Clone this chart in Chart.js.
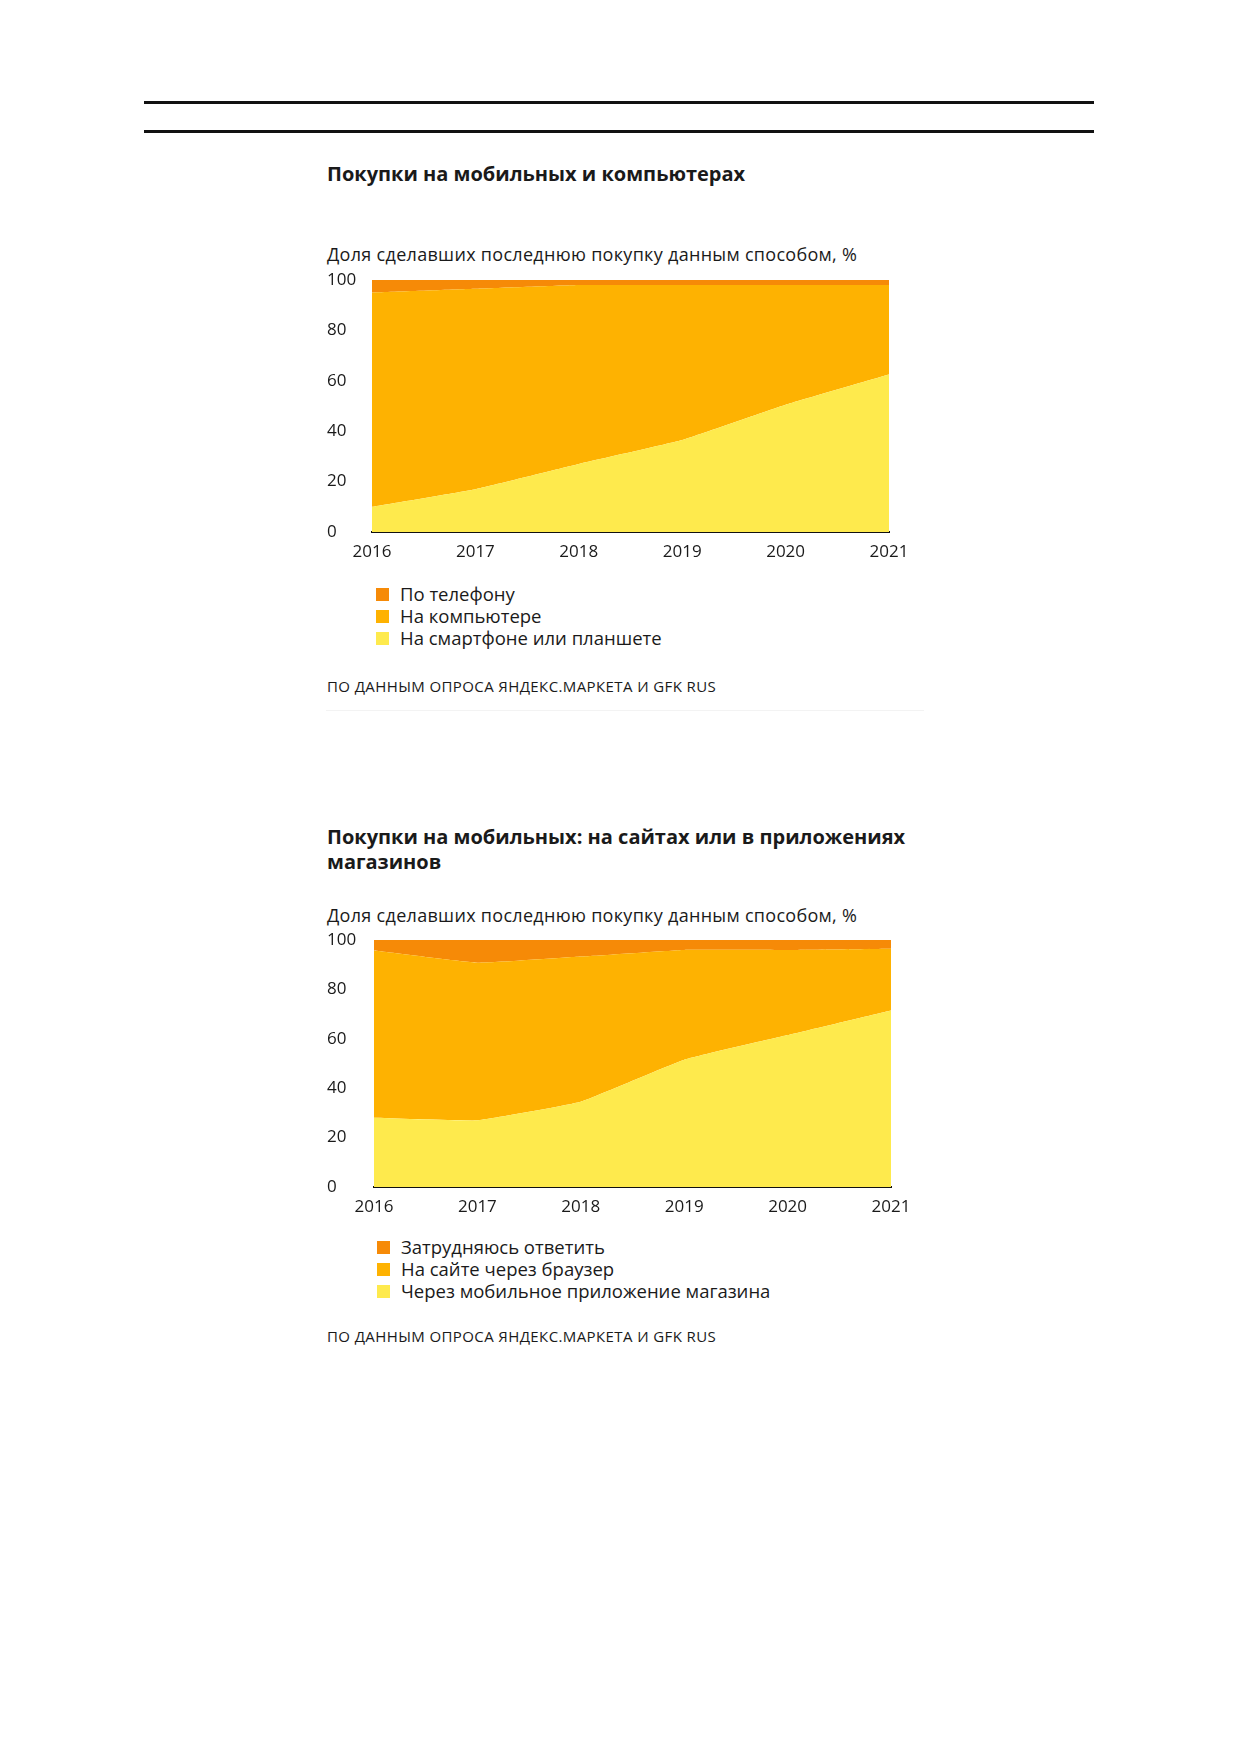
<!DOCTYPE html>
<html lang="ru">
<head>
<meta charset="utf-8">
<script src="https://cdn.jsdelivr.net/npm/chart.js@4.4.1/dist/chart.umd.min.js"></script>
<style>
  html, body { margin: 0; padding: 0; background: #fff; }
  body { width: 1237px; height: 1754px; position: relative; font-family: "Open Sans", sans-serif; color: #1a1a1a; }
  .rule { position: absolute; left: 144px; width: 950px; height: 3px; background: #111; }
  .title { position: absolute; left: 327px; font-size: 20px; font-weight: 700; line-height: 25px; white-space: nowrap; }
  .subtitle { position: absolute; left: 327px; font-size: 18px; letter-spacing: 0.3px; line-height: 24px; white-space: nowrap; }
  .legend { position: absolute; font-size: 18.5px; line-height: 22px; }
  .legend .item { display: flex; align-items: center; white-space: nowrap; }
  .legend .box { width: 13px; height: 13px; margin-right: 11px; }
  .source { position: absolute; left: 327px; font-size: 15px; letter-spacing: 0.4px; line-height: 20px; white-space: nowrap; }
  .wrap { position: absolute; }
</style>
</head>
<body>

<div class="rule" style="top:101px"></div>
<div class="rule" style="top:130px"></div>

<!-- chart 1 -->
<div class="title" style="top:161px">Покупки на мобильных и компьютерах</div>
<div class="subtitle" style="top:242px">Доля сделавших последнюю покупку данным способом, %</div>
<div class="wrap" style="left:327px; top:262px; width:592px; height:304px;"><canvas id="chart1"></canvas></div>
<div class="legend" id="legend1" style="left:376px; top:583px"></div>
<div class="source" style="top:676px">ПО ДАННЫМ ОПРОСА ЯНДЕКС.МАРКЕТА И GFK RUS</div>
<div style="position:absolute; left:326px; top:710px; width:598px; height:1px; background:#f3f3f3"></div>

<!-- chart 2 -->
<div class="title" style="top:824px">Покупки на мобильных: на сайтах или в приложениях<br>магазинов</div>
<div class="subtitle" style="top:903px">Доля сделавших последнюю покупку данным способом, %</div>
<div class="wrap" style="left:327px; top:922px; width:594px; height:299px;"><canvas id="chart2"></canvas></div>
<div class="legend" id="legend2" style="left:377px; top:1236px"></div>
<div class="source" style="top:1326px">ПО ДАННЫМ ОПРОСА ЯНДЕКС.МАРКЕТА И GFK RUS</div>

<script>
// Data (percent of respondents)
const years = ["2016", "2017", "2018", "2019", "2020", "2021"];
const yTicks = [0, 20, 40, 60, 80, 100];

// Chart 1: device of last purchase
const smartphoneShare = [10, 17, 27, 36.5, 50.5, 62.5];
const computerShare = [85, 79.5, 71, 61.5, 47.5, 35.5];
const phoneShare = [5, 3.5, 2, 2, 2, 2];

// Chart 2: mobile purchases, site or app
const appShare = [28, 27, 34.5, 51.5, 61.5, 71.5];
const browserShare = [67.7, 63.8, 58.8, 44.5, 34.5, 25];
const hardShare = [4.3, 9.2, 6.7, 4, 4, 3.5];

const colors = ["#feea4d", "#feb201", "#f68a07"];

function makeChart(id, legendId, series, labels, yWidth) {
    const ctx = document.getElementById(id).getContext("2d");

    const datasets = series.map(function (values, i) {
        return {
            label: labels[i],
            data: values,
            backgroundColor: colors[i],
            borderWidth: 0,
            pointRadius: 0,
            fill: i === 0 ? "origin" : "-1",
            tension: 0.1
        };
    });

    new Chart(ctx, {
        type: "line",
        data: { labels: years, datasets: datasets },
        options: {
            responsive: true,
            maintainAspectRatio: false,
            animation: false,
            layout: { padding: { top: 18, right: 30, left: 0, bottom: 0 } },
            plugins: { legend: { display: false }, tooltip: { enabled: false } },
            scales: {
                x: {
                    grid: { display: false, drawTicks: false },
                    border: { display: true, color: "#111", width: 2 },
                    ticks: { color: "#1a1a1a", font: { family: "Open Sans", size: 17 }, padding: 10, maxRotation: 0 },
                    afterFit: function (scale) { scale.height = 34; }
                },
                y: {
                    stacked: true,
                    min: 0,
                    max: 100,
                    grid: { display: false, drawTicks: false },
                    border: { display: false },
                    ticks: { color: "#1a1a1a", font: { family: "Open Sans", size: 17 }, crossAlign: "far", padding: 0 },
                    afterBuildTicks: function (scale) {
                        scale.ticks = yTicks.map(function (v) { return { value: v }; });
                    },
                    afterFit: function (scale) { scale.width = yWidth; }
                }
            }
        }
    });

    // legend below the chart, top band first
    const legend = document.getElementById(legendId);
    for (let i = labels.length - 1; i >= 0; i--) {
        const item = document.createElement("div");
        item.className = "item";
        item.innerHTML = '<span class="box" style="background:' + colors[i] + '"></span>' + labels[i];
        legend.appendChild(item);
    }
}

makeChart("chart1", "legend1",
    [smartphoneShare, computerShare, phoneShare],
    ["На смартфоне или планшете", "На компьютере", "По телефону"], 45);

makeChart("chart2", "legend2",
    [appShare, browserShare, hardShare],
    ["Через мобильное приложение магазина", "На сайте через браузер", "Затрудняюсь ответить"], 47);
</script>
</body>
</html>
